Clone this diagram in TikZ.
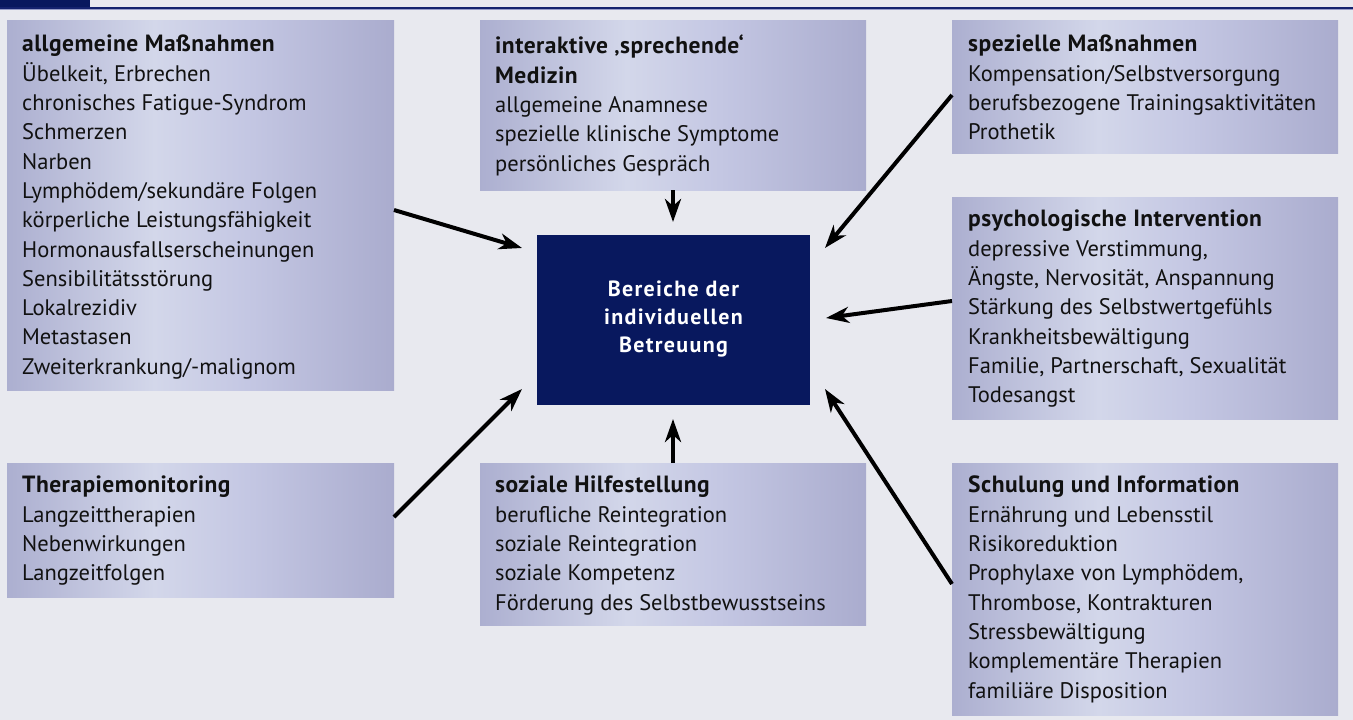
\documentclass[tikz,border=0pt]{standalone}
\usepackage{fontspec}
\setmainfont{PT Sans}
\usetikzlibrary{arrows.meta}
\definecolor{bg}{RGB}{232,233,239}
\definecolor{navy}{RGB}{8,24,94}
\definecolor{navyline}{RGB}{20,34,110}
\definecolor{paleline}{RGB}{150,156,200}
\definecolor{txt}{RGB}{17,17,17}
\definecolor{shA}{RGB}{172,175,208}
\definecolor{shB}{RGB}{211,215,234}
\definecolor{shC}{RGB}{196,199,227}
\definecolor{shD}{RGB}{170,172,206}
\pgfdeclarehorizontalshading{boxshade}{100bp}{%
  color(0bp)=(shA);
  color(25bp)=(shA);
  color(44bp)=(shB);
  color(56bp)=(shC);
  color(75bp)=(shD);
  color(100bp)=(shD)}
\newcommand{\ttl}[1]{{\fontsize{23.5}{29.3}\selectfont\bfseries\addfontfeature{LetterSpace=2}#1}}
\tikzset{
  box/.style={shading=boxshade, draw=none},
  boxtext/.style={anchor=north west, inner sep=0pt, align=left, text=txt,
    font=\fontsize{22.5}{29.3}\selectfont},
  arr/.style={line width=4pt, -{Stealth[length=23pt,width=16pt,inset=7pt]}},
}
\begin{document}
\begin{tikzpicture}[x=1pt,y=-1pt]
\fill[bg] (0,0) rectangle (1353,720);
\useasboundingbox (0,0) rectangle (1353,720);
% header
\fill[navy] (0,0) rectangle (90,7);
\fill[navyline] (0,6.5) rectangle (1353,9);
\fill[paleline] (0,9) rectangle (1353,10);

% boxes
\path[box] (7,20) rectangle (394,390) node[pos=0.5] (b1) {};
\path[box] (480,20) rectangle (866,190) node[pos=0.5] (b2) {};
\path[box] (952,20) rectangle (1338,153) node[pos=0.5] (b3) {};
\path[box] (952,197) rectangle (1338,419) node[pos=0.5] (b4) {};
\path[box] (952,463) rectangle (1338,715) node[pos=0.5] (b5) {};
\path[box] (480,463) rectangle (866,625) node[pos=0.5] (b6) {};
\path[box] (7,463) rectangle (394,597) node[pos=0.5] (b7) {};

% center
\fill[navy] (537,235) rectangle (810,405);
\node[text=white, align=center, font=\fontsize{22}{28}\selectfont\bfseries\addfontfeature{LetterSpace=6}] (c) at (673.5,319.5) {Bereiche der\\individuellen\\Betreuung};

% texts
\node[boxtext] (t1) at (22,35) {\ttl{allgemeine Maßnahmen}\\Übelkeit, Erbrechen\\chronisches Fatigue-Syndrom\\Schmerzen\\Narben\\Lymphödem/sekundäre Folgen\\körperliche Leistungsfähigkeit\\Hormonausfallserscheinungen\\Sensibilitätsstörung\\Lokalrezidiv\\Metastasen\\Zweiterkrankung/-malignom};
\node[boxtext] (t2) at (495,35) {\ttl{interaktive ‚sprechende‘}\\\ttl{Medizin}\\allgemeine Anamnese\\spezielle klinische Symptome\\persönliches Gespräch};
\node[boxtext] (t3) at (968,35) {\ttl{spezielle Maßnahmen}\\Kompensation/Selbstversorgung\\berufsbezogene Trainingsaktivitäten\\Prothetik};
\node[boxtext] (t4) at (968,210) {\ttl{psychologische Intervention}\\depressive Verstimmung,\\Ängste, Nervosität, Anspannung\\Stärkung des Selbstwertgefühls\\Krankheitsbewältigung\\Familie, Partnerschaft, Sexualität\\Todesangst};
\node[boxtext] (t5) at (968,476) {\ttl{Schulung und Information}\\Ernährung und Lebensstil\\Risikoreduktion\\Prophylaxe von Lymphödem,\\Thrombose, Kontrakturen\\Stressbewältigung\\komplementäre Therapien\\familiäre Disposition};
\node[boxtext] (t6) at (495,476) {\ttl{soziale Hilfestellung}\\berufliche Reintegration\\soziale Reintegration\\soziale Kompetenz\\Förderung des Selbstbewusstseins};
\node[boxtext] (t7) at (22,476) {\ttl{Therapiemonitoring}\\Langzeittherapien\\Nebenwirkungen\\Langzeitfolgen};

% arrow end points
\coordinate (e1) at (522,248);
\coordinate (e7) at (522,389);
\coordinate (e2) at (673,222);
\coordinate (e6) at (673,419);
\coordinate (e3) at (825,248);
\coordinate (e4) at (826,318);
\coordinate (e5) at (825,389);
\coordinate (s1) at (394,210);
\coordinate (s7) at (394,517);
\coordinate (s2) at (673,190);
\coordinate (s6) at (673,463);
\coordinate (s3) at (952,95);
\coordinate (s4) at (952,301);
\coordinate (s5) at (952,584);
\draw[arr] (s1) -- (e1);
\draw[arr] (s7) -- (e7);
\draw[arr] (s2) -- (e2);
\draw[arr] (s6) -- (e6);
\draw[arr] (s3) -- (e3);
\draw[arr] (s4) -- (e4);
\draw[arr] (s5) -- (e5);
\end{tikzpicture}
\end{document}
